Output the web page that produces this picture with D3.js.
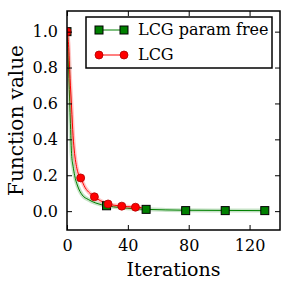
<!DOCTYPE html>
<html>
<head>
<meta charset="utf-8">
<script src="https://cdn.jsdelivr.net/npm/d3@7"></script>
<style>
  body { margin: 0; background: #fff; }
  text { font-family: "DejaVu Serif", serif; fill: #000; }
</style>
</head>
<body>
<script>
// convergence of LCG vs parameter free LCG

// per-iteration curves
var lcgIter   = [0, 1, 2, 3, 4, 5, 6, 7, 9, 12, 15, 18, 22, 27, 31, 36, 40, 45, 49];
var lcgVal    = [1.0, 0.93, 0.74, 0.58, 0.42, 0.32, 0.26, 0.22, 0.185, 0.13, 0.1, 0.08, 0.058, 0.04, 0.033, 0.028, 0.025, 0.022, 0.02];
var freeIter  = [0, 1, 2, 3, 4, 5, 7, 10, 14, 19, 26, 35, 45, 52, 65, 78, 104, 130];
var freeVal   = [1.0, 0.8, 0.55, 0.32, 0.25, 0.2, 0.14, 0.09, 0.065, 0.045, 0.03, 0.02, 0.013, 0.01, 0.007, 0.005, 0.004, 0.003];

// marker points
var lcgMarkIter  = [0, 9, 18, 27, 36, 45];
var lcgMarkVal   = [1.0, 0.185, 0.08, 0.04, 0.028, 0.022];
var freeMarkIter = [0, 26, 52, 78, 104, 130];
var freeMarkVal  = [1.0, 0.03, 0.01, 0.003, 0.003, 0.003];

var xTicks = [0, 40, 80, 120];
var yTicks = [0.0, 0.2, 0.4, 0.6, 0.8, 1.0];

var width = 291, height = 291;
var margin = {top: 11, right: 11, bottom: 61, left: 67};

var svg = d3.select("body").append("svg")
  .attr("width", width)
  .attr("height", height);

var w = width - margin.left - margin.right;
var h = height - margin.top - margin.bottom;

var g = svg.append("g")
  .attr("transform", "translate(" + margin.left + "," + margin.top + ")");

var x = d3.scaleLinear().domain([0, 140]).range([0, w]);
var y = d3.scaleLinear().domain([-0.105, 1.115]).range([h, 0]);

g.append("clipPath").attr("id", "clip")
  .append("rect").attr("width", w).attr("height", h);

var zip = function(a, b) { return a.map(function(v, i) { return [v, b[i]]; }); };

var line = d3.line()
  .x(function(d) { return x(d[0]); })
  .y(function(d) { return y(d[1]); })
  .curve(d3.curveMonotoneX);

var plot = g.append("g").attr("clip-path", "url(#clip)");

var series = [
  {line: zip(freeIter, freeVal), marks: zip(freeMarkIter, freeMarkVal), col: "#008000", edge: "#000", shape: "square"},
  {line: zip(lcgIter, lcgVal), marks: zip(lcgMarkIter, lcgMarkVal), col: "#ff0000", edge: "#b00000", shape: "circle"}
];

series.forEach(function(s) {
  plot.append("path")
    .datum(s.line)
    .attr("fill", "none")
    .attr("stroke", s.col)
    .attr("stroke-opacity", 0.22)
    .attr("stroke-width", 4)
    .attr("stroke-linejoin", "round")
    .attr("d", line);
  plot.append("path")
    .datum(s.line)
    .attr("fill", "none")
    .attr("stroke", s.col)
    .attr("stroke-width", 1)
    .attr("d", line);
});

series.forEach(function(s) {
  s.marks.forEach(function(d) {
    if (s.shape == "square") {
      plot.append("rect")
        .attr("x", x(d[0]) - 4).attr("y", y(d[1]) - 4)
        .attr("width", 8).attr("height", 8)
        .attr("fill", s.col).attr("stroke", s.edge).attr("stroke-width", 1);
    } else {
      plot.append("circle")
        .attr("cx", x(d[0])).attr("cy", y(d[1])).attr("r", 4)
        .attr("fill", s.col).attr("stroke", s.edge).attr("stroke-width", 0.8);
    }
  });
});

// axes, ticks inward on all sides
var tl = 5;
g.append("g")
  .attr("transform", "translate(0," + h + ")")
  .call(d3.axisBottom(x).tickValues(xTicks).tickSizeInner(-tl).tickSizeOuter(0).tickPadding(10).tickFormat(d3.format("d")));
g.append("g")
  .call(d3.axisTop(x).tickValues(xTicks).tickSizeInner(-tl).tickSizeOuter(0).tickFormat(""));
g.append("g")
  .call(d3.axisLeft(y).tickValues(yTicks).tickSizeInner(-tl).tickSizeOuter(0).tickPadding(9).tickFormat(d3.format(".1f")));
g.append("g")
  .attr("transform", "translate(" + w + ",0)")
  .call(d3.axisRight(y).tickValues(yTicks).tickSizeInner(-tl).tickSizeOuter(0).tickFormat(""));

g.selectAll(".domain").remove();
g.selectAll(".tick line").attr("stroke", "#000").attr("stroke-width", 1);
g.selectAll(".tick text").style("font-family", "DejaVu Serif").style("font-size", "16px").attr("fill", "#000");

g.append("rect")
  .attr("width", w).attr("height", h)
  .attr("fill", "none").attr("stroke", "#000").attr("stroke-width", 1.5);

g.append("text")
  .attr("x", w / 2).attr("y", h + 46)
  .attr("text-anchor", "middle")
  .style("font-size", "19px")
  .text("Iterations");

g.append("text")
  .attr("transform", "rotate(-90)")
  .attr("x", -h / 2).attr("y", -44)
  .attr("text-anchor", "middle")
  .style("font-size", "20px")
  .text("Function value");

// legend
var legendNames = ["LCG param free", "LCG"];
var leg = svg.append("g").attr("transform", "translate(86,17)");
leg.append("rect")
  .attr("width", 186).attr("height", 51)
  .attr("fill", "#fff").attr("stroke", "#000").attr("stroke-width", 1.5);

legendNames.forEach(function(name, i) {
  var s = series[i];
  var ly = 13 + i * 25;
  leg.append("line")
    .attr("x1", 13).attr("x2", 38).attr("y1", ly).attr("y2", ly)
    .attr("stroke", s.col).attr("stroke-width", 1);
  [13, 38].forEach(function(mx) {
    if (s.shape == "square") {
      leg.append("rect")
        .attr("x", mx - 4).attr("y", ly - 4).attr("width", 8).attr("height", 8)
        .attr("fill", s.col).attr("stroke", s.edge);
    } else {
      leg.append("circle")
        .attr("cx", mx).attr("cy", ly).attr("r", 4)
        .attr("fill", s.col).attr("stroke", s.edge).attr("stroke-width", 0.8);
    }
  });
  leg.append("text")
    .attr("x", 52).attr("y", ly + 5)
    .style("font-size", "16px")
    .text(name);
});
</script>
</body>
</html>
